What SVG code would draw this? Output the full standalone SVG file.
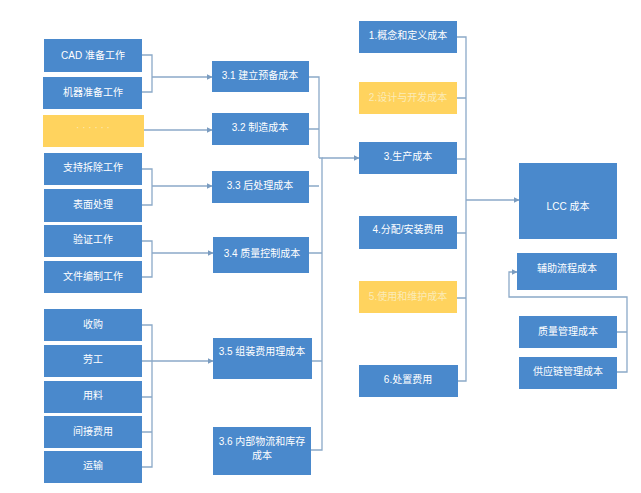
<svg xmlns="http://www.w3.org/2000/svg" width="641" height="493" viewBox="0 0 641 493">
<defs>
<marker id="ah" viewBox="0 0 10 10" refX="9" refY="5" markerWidth="6" markerHeight="6" orient="auto" markerUnits="userSpaceOnUse"><path d="M0,0 L10,5 L0,10 z" fill="#7A9CC0"/></marker>
<style>
.b{fill:#4A89CC;}
.y{fill:#FFD35E;}
.t{font-family:"Liberation Sans","Noto Sans CJK SC",sans-serif;font-size:10px;fill:#FFFFFF;text-anchor:middle;dominant-baseline:central;}
.ty{font-family:"Liberation Sans","Noto Sans CJK SC",sans-serif;font-size:10px;fill:#FBEBB8;text-anchor:middle;dominant-baseline:central;}
.c{fill:none;stroke:#8BA9C8;stroke-width:1.3;}
</style>
</defs>
<rect width="641" height="493" fill="#FFFFFF"/>
<g id="connectors">
<path class="c" d="M142,55 H152 V92 H142"/>
<path class="c" d="M152,77 H212" marker-end="url(#ah)"/>
<path class="c" d="M144,130 H212" marker-end="url(#ah)"/>
<path class="c" d="M142,169 H152 V205 H142"/>
<path class="c" d="M152,186 H212" marker-end="url(#ah)"/>
<path class="c" d="M142,241 H152 V277 H142"/>
<path class="c" d="M152,253 H213" marker-end="url(#ah)"/>
<path class="c" d="M142,325 H152 V467 H142 M142,361 H152 M142,397 H152 M142,432 H152"/>
<path class="c" d="M152,361 H213" marker-end="url(#ah)"/>
<path class="c" d="M309,77 H319 V158"/>
<path class="c" d="M309,129 H319 M309,186 H319"/>
<path class="c" d="M319,158 H322 V450 H311 M309,253 H322 M312,361 H322"/>
<path class="c" d="M322,158 H359" marker-end="url(#ah)"/>
<path class="c" d="M457,37 H466 V381 H458 M457,98 H466 M457,159 H466 M457,233 H466 M457,298 H466"/>
<path class="c" d="M466,200 H519" marker-end="url(#ah)"/>
<path class="c" d="M617,332 H627 V372 H617 M627,332 V297 H509 V272 H517" marker-end="url(#ah)"/>
</g>
<g id="n_cad"><rect class="b" x="44" y="39" width="98" height="33"/><text class="t" x="93" y="55.5">CAD 准备工作</text></g>
<g id="n_machine"><rect class="b" x="43" y="77" width="99" height="32"/><text class="t" x="93" y="92">机器准备工作</text></g>
<g id="n_dots"><rect class="y" x="43" y="115" width="101" height="32"/><text class="ty" x="93" y="127">· · · · · ·</text></g>
<g id="n_support"><rect class="b" x="44" y="153" width="98" height="32"/><text class="t" x="93" y="167">支持拆除工作</text></g>
<g id="n_surface"><rect class="b" x="44" y="189" width="98" height="33"/><text class="t" x="93" y="204">表面处理</text></g>
<g id="n_verify"><rect class="b" x="44" y="225" width="98" height="32"/><text class="t" x="93" y="239">验证工作</text></g>
<g id="n_doc"><rect class="b" x="44" y="261" width="98" height="32"/><text class="t" x="93" y="276">文件编制工作</text></g>
<g id="n_buy"><rect class="b" x="44" y="309" width="98" height="32"/><text class="t" x="93" y="324">收购</text></g>
<g id="n_labor"><rect class="b" x="44" y="345" width="98" height="32"/><text class="t" x="93" y="359">劳工</text></g>
<g id="n_material"><rect class="b" x="44" y="381" width="98" height="32"/><text class="t" x="93" y="395">用料</text></g>
<g id="n_indirect"><rect class="b" x="44" y="416" width="98" height="32"/><text class="t" x="93" y="431">间接费用</text></g>
<g id="n_transport"><rect class="b" x="44" y="451" width="98" height="32"/><text class="t" x="93" y="465">运输</text></g>
<g id="n_31"><rect class="b" x="212" y="61" width="97" height="31"/><text class="t" x="260" y="75">3.1 建立预备成本</text></g>
<g id="n_32"><rect class="b" x="212" y="113" width="97" height="32"/><text class="t" x="260" y="127">3.2 制造成本</text></g>
<g id="n_33"><rect class="b" x="212" y="171" width="97" height="32"/><text class="t" x="260" y="185">3.3 后处理成本</text></g>
<g id="n_34"><rect class="b" x="213" y="237" width="96" height="36"/><text class="t" x="262" y="253">3.4  质量控制成本</text></g>
<g id="n_35"><rect class="b" x="213" y="338" width="99" height="41"/><text class="t" x="262" y="351">3.5 组装费用理成本</text></g>
<g id="n_36"><rect class="b" x="213" y="427" width="98" height="48"/><text class="t" x="262" y="441">3.6 内部物流和库存</text><text class="t" x="262" y="455">成本</text></g>
<g id="n_1"><rect class="b" x="359" y="21" width="98" height="32"/><text class="t" x="408" y="35">1.概念和定义成本</text></g>
<g id="n_2"><rect class="y" x="359" y="82" width="98" height="32"/><text class="ty" x="408" y="97">2.设计与开发成本</text></g>
<g id="n_3"><rect class="b" x="359" y="142" width="98" height="32"/><text class="t" x="408" y="156">3.生产成本</text></g>
<g id="n_4"><rect class="b" x="359" y="216" width="98" height="33"/><text class="t" x="408" y="229">4.分配/安装费用</text></g>
<g id="n_5"><rect class="y" x="359" y="281" width="98" height="32"/><text class="ty" x="408" y="296">5.使用和维护成本</text></g>
<g id="n_6"><rect class="b" x="359" y="365" width="99" height="32"/><text class="t" x="408" y="379">6.处置费用</text></g>
<g id="n_lcc"><rect class="b" x="519" y="163" width="98" height="76"/><text class="t" x="568" y="206">LCC 成本</text></g>
<g id="n_aux"><rect class="b" x="517" y="253" width="100" height="37"/><text class="t" x="567" y="268">辅助流程成本</text></g>
<g id="n_qm"><rect class="b" x="519" y="316" width="98" height="32"/><text class="t" x="568" y="331">质量管理成本</text></g>
<g id="n_scm"><rect class="b" x="519" y="357" width="98" height="32"/><text class="t" x="568" y="371">供应链管理成本</text></g>
</svg>
